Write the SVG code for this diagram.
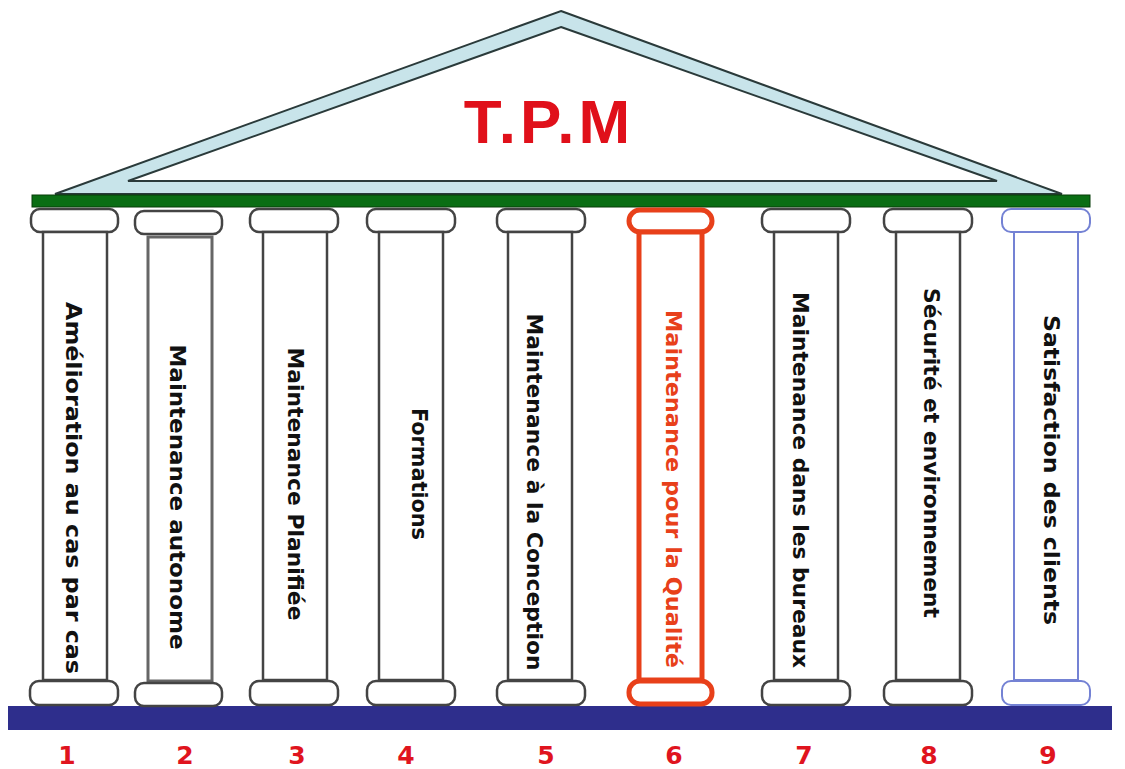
<svg xmlns="http://www.w3.org/2000/svg" width="1125" height="769" viewBox="0 0 1125 769">
<style>
.cap{fill:#fff;stroke:#444;stroke-width:2.5}
.shaft{fill:#fff;stroke:#444;stroke-width:2.5}
.lbl{font-family:"DejaVu Sans",sans-serif;font-weight:bold;font-size:22px;fill:#111;text-anchor:middle;dominant-baseline:central}
.num{font-family:"DejaVu Sans",sans-serif;font-weight:bold;font-size:25px;fill:#e0141e;text-anchor:middle}
.red .cap,.red .shaft{stroke:#e8401a;stroke-width:5}
.red .lbl{fill:#e8401a}
.blue .cap,.blue .shaft{stroke:#7482d4;stroke-width:2}
</style>
<rect width="1125" height="769" fill="#fff"/>
<g id="roof">
<polygon points="561,11 1062,194 55,194" fill="#c8e4ea" stroke="#2a3a3a" stroke-width="2"/>
<polygon points="561,27 997,181 128,181" fill="#fff" stroke="#2a3a3a" stroke-width="2"/>
<text x="549" y="143" font-family="Liberation Sans, sans-serif" font-weight="bold" font-size="62" fill="#e0101a" text-anchor="middle" letter-spacing="4">T.P.M</text>
</g>
<rect id="entablature" x="32" y="195" width="1058" height="12" fill="#0a6e14" stroke="#063c08" stroke-width="1"/>
<rect id="stylobate" x="8" y="706" width="1104" height="24" fill="#2e2e8c"/>
<g id="col1">
<rect class="cap" x="31" y="209" width="87" height="23" rx="9"/>
<rect class="shaft" x="43" y="232" width="64" height="448"/>
<rect class="cap" x="30" y="681" width="88" height="24" rx="9"/>
<text class="lbl" transform="translate(73,488) rotate(90)" textLength="372" lengthAdjust="spacingAndGlyphs">Amélioration au cas par cas</text>
</g>
<g id="col2">
<rect class="cap" x="135" y="211" width="87" height="23" rx="9"/>
<rect class="shaft" x="148" y="237" width="64" height="444" style="stroke:#666;stroke-width:3"/>
<rect class="cap" x="135" y="683" width="87" height="23" rx="9"/>
<text class="lbl" transform="translate(177,497) rotate(90)" textLength="305" lengthAdjust="spacingAndGlyphs">Maintenance autonome</text>
</g>
<g id="col3">
<rect class="cap" x="250" y="209" width="88" height="23" rx="9"/>
<rect class="shaft" x="263" y="232" width="64" height="448"/>
<rect class="cap" x="250" y="681" width="88" height="24" rx="9"/>
<text class="lbl" transform="translate(295,484) rotate(90)" textLength="273" lengthAdjust="spacingAndGlyphs">Maintenance Planifiée</text>
</g>
<g id="col4">
<rect class="cap" x="367" y="209" width="88" height="23" rx="9"/>
<rect class="shaft" x="379" y="232" width="64" height="448"/>
<rect class="cap" x="367" y="681" width="88" height="24" rx="9"/>
<text class="lbl" transform="translate(419,474) rotate(90)" textLength="132" lengthAdjust="spacingAndGlyphs">Formations</text>
</g>
<g id="col5">
<rect class="cap" x="497" y="209" width="88" height="23" rx="9"/>
<rect class="shaft" x="508" y="232" width="64" height="448"/>
<rect class="cap" x="497" y="681" width="88" height="24" rx="9"/>
<text class="lbl" transform="translate(534,492) rotate(90)" textLength="357" lengthAdjust="spacingAndGlyphs">Maintenance à la Conception</text>
</g>
<g id="col6" class="red">
<rect class="cap" x="629" y="210" width="83" height="22" rx="11"/>
<rect class="shaft" x="639" y="232" width="63" height="448"/>
<rect class="cap" x="629" y="681" width="83" height="23" rx="11"/>
<text class="lbl" transform="translate(673,489) rotate(90)" textLength="358" lengthAdjust="spacingAndGlyphs">Maintenance pour la Qualité</text>
</g>
<g id="col7">
<rect class="cap" x="762" y="209" width="88" height="23" rx="9"/>
<rect class="shaft" x="774" y="232" width="64" height="448"/>
<rect class="cap" x="762" y="681" width="88" height="24" rx="9"/>
<text class="lbl" transform="translate(800,480) rotate(90)" textLength="376" lengthAdjust="spacingAndGlyphs">Maintenance dans les bureaux</text>
</g>
<g id="col8">
<rect class="cap" x="884" y="209" width="88" height="23" rx="9"/>
<rect class="shaft" x="896" y="232" width="64" height="448"/>
<rect class="cap" x="884" y="681" width="88" height="24" rx="9"/>
<text class="lbl" transform="translate(931,453) rotate(90)" textLength="330" lengthAdjust="spacingAndGlyphs">Sécurité et environnement</text>
</g>
<g id="col9" class="blue">
<rect class="cap" x="1002" y="209" width="88" height="23" rx="9"/>
<rect class="shaft" x="1014" y="232" width="64" height="448"/>
<rect class="cap" x="1002" y="681" width="88" height="24" rx="9"/>
<text class="lbl" transform="translate(1051,470) rotate(90)" textLength="310" lengthAdjust="spacingAndGlyphs">Satisfaction des clients</text>
</g>
<g id="numbers">
<text class="num" x="67" y="764">1</text>
<text class="num" x="185" y="764">2</text>
<text class="num" x="297" y="764">3</text>
<text class="num" x="406" y="764">4</text>
<text class="num" x="546" y="764">5</text>
<text class="num" x="674" y="764">6</text>
<text class="num" x="804" y="764">7</text>
<text class="num" x="929" y="764">8</text>
<text class="num" x="1048" y="764">9</text>
</g>
</svg>
